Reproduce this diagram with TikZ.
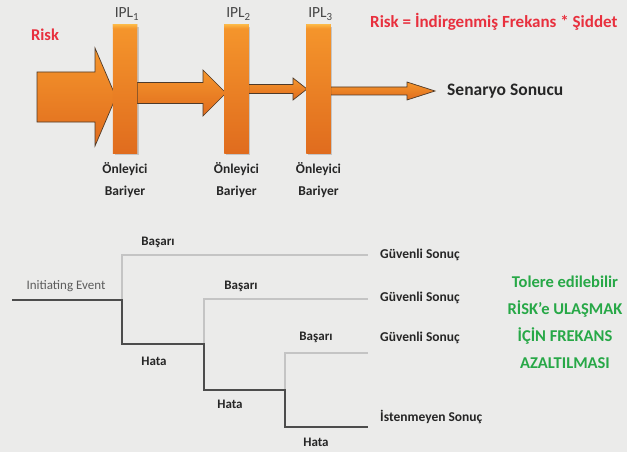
\documentclass[tikz,border=0pt]{standalone}
\usepackage{fontspec}
\setmainfont{Carlito}
\usetikzlibrary{calc,shadows}

\definecolor{bgc}{HTML}{EBEBEA}
\definecolor{riskred}{HTML}{E8303E}
\definecolor{okgreen}{HTML}{27A847}
\definecolor{orangetop}{HTML}{F5962C}
\definecolor{orangebot}{HTML}{E06C1E}
\definecolor{orangehi}{HTML}{FBB443}
\definecolor{orangeline}{HTML}{4E3A2A}
\definecolor{okline}{HTML}{C4C4C4}
\definecolor{failline}{HTML}{4C4C4C}
\definecolor{txt}{HTML}{262626}

\tikzset{
  blockarrow/.style={draw=orangeline, line width=0.7pt, line join=miter,
    top color=orangetop, bottom color=orangebot},
  barrier/.style={rectangle, minimum width=24pt, minimum height=128pt,
    inner sep=0pt, top color=orangetop, bottom color=orangebot,
    drop shadow={shadow xshift=1.6pt, shadow yshift=-1.6pt, opacity=0.35}},
  ipl/.style={font=\fontsize{15.5}{15.5}\selectfont, text=txt!85},
  barlabel/.style={font=\fontsize{13.5}{22}\selectfont\bfseries, text=txt,
    align=center},
  branch/.style={font=\fontsize{13}{13}\selectfont\bfseries, text=txt},
  outcome/.style={font=\fontsize{13.5}{13.5}\selectfont\bfseries, text=txt,
    anchor=west, inner sep=0pt},
  okpath/.style={draw=okline, line width=2.6pt},
  failpath/.style={draw=failline, line width=2.6pt},
}

% block arrow from the x of #1 to the tip #2;
% #3 shaft half height, #4 head half height, #5 head length
\newcommand\blockarrow[5]{%
  \path[blockarrow] let \p1=(#1), \p2=(#2) in
    ({\x1},{\y2+#3}) -- ({\x2-#5},{\y2+#3}) -- ({\x2-#5},{\y2+#4})
    -- (\x2,\y2) -- ({\x2-#5},{\y2-#4}) -- ({\x2-#5},{\y2-#3})
    -- ({\x1},{\y2-#3}) -- cycle;}

\begin{document}
\begin{tikzpicture}[x=1pt, y=-1pt]
  \clip (0,0) rectangle (627,452);
  \fill[bgc] (0,0) rectangle (627,452);

  % ---------- barrier chain ----------
  \coordinate (tail) at (37,97);
  \coordinate (tip1) at (116,97);
  \coordinate (tip2) at (226,93);
  \coordinate (tip3) at (307,89);
  \coordinate (tip4) at (435,91);

  \node[barrier] (b1) at (125,89) {};
  \node[barrier] (b2) at (236.5,89) {};
  \node[barrier] (b3) at (318.5,89) {};

  \blockarrow{tail}{tip1}{25pt}{49pt}{21pt}
  \blockarrow{b1.east}{tip2}{10.5pt}{23pt}{23pt}
  \blockarrow{b2.east}{tip3}{4.5pt}{11pt}{14pt}
  \blockarrow{b3.east}{tip4}{4pt}{9pt}{28pt}

  % redraw the bars over the arrow tips, with a bright top edge
  \foreach \b in {b1,b2,b3}{
    \fill[top color=orangetop, bottom color=orangebot]
      (\b.north west) rectangle (\b.south east);
    \fill[top color=orangehi, bottom color=orangetop]
      (\b.north west) rectangle ([yshift=-3.5pt]\b.north east);
  }

  \node[ipl] (l1) at (127,14) {IPL\textsubscript{1}};
  \node[ipl] (l2) at (238.5,14) {IPL\textsubscript{2}};
  \node[ipl] (l3) at (320.5,14) {IPL\textsubscript{3}};

  \node[barlabel] (o1) at (125,180) {Önleyici\\Bariyer};
  \node[barlabel] (o2) at (236.5,180) {Önleyici\\Bariyer};
  \node[barlabel] (o3) at (318.5,180) {Önleyici\\Bariyer};

  \node[font=\fontsize{16.5}{16.5}\selectfont\bfseries, text=riskred]
    (risk) at (45,35) {Risk};
  \node[font=\fontsize{17}{17}\selectfont\bfseries, text=riskred,
    anchor=west, inner sep=0pt] (formula) at (370,22)
    {Risk = İndirgenmiş Frekans * Şiddet};
  \node[font=\fontsize{17.5}{17.5}\selectfont\bfseries, text=txt,
    anchor=west, inner sep=0pt] (result) at (447,91) {Senaryo Sonucu};

  % ---------- event tree ----------
  \coordinate (ie) at (12,300);
  \coordinate (j1) at (122,300);
  \coordinate (s1) at (122,255);
  \coordinate (f1) at (122,344);
  \coordinate (j2) at (204,344);
  \coordinate (s2) at (204,299);
  \coordinate (f2) at (204,390);
  \coordinate (j3) at (285,390);
  \coordinate (s3) at (285,353);
  \coordinate (f3) at (285,427);
  \coordinate (e1) at (368,255);
  \coordinate (e2) at (368,299);
  \coordinate (e3) at (368,353);
  \coordinate (e4) at (368,427);

  \draw[okpath] (j1) -- (s1) -- (e1);
  \draw[okpath] (j2) -- (s2) -- (e2);
  \draw[okpath] (j3) -- (s3) -- (e3);
  \draw[failpath, line join=miter] (ie) -- (j1) -- (f1) -- (j2) -- (f2) -- (j3) -- (f3) -- (e4);

  \node[font=\fontsize{13}{13}\selectfont, text=txt!75] (ielabel) at (66,286)
    {Initiating Event};

  \node[branch] (bs1) at (158,242) {Başarı};
  \node[branch] (bs2) at (241,286) {Başarı};
  \node[branch] (bs3) at (316,337) {Başarı};
  \node[branch] (bf1) at (154,361) {Hata};
  \node[branch] (bf2) at (230,404) {Hata};
  \node[branch] (bf3) at (316,442) {Hata};

  \node[outcome] (out1) at (380,255) {Güvenli Sonuç};
  \node[outcome] (out2) at (380,298) {Güvenli Sonuç};
  \node[outcome] (out3) at (380,338) {Güvenli Sonuç};
  \node[outcome] (out4) at (380,417) {İstenmeyen Sonuç};

  \node[font=\fontsize{16.5}{27}\selectfont\bfseries, text=okgreen,
    align=center, inner sep=0pt] (goal) at (565,322)
    {Tolere edilebilir\\RİSK’e ULAŞMAK\\İÇİN FREKANS\\AZALTILMASI};
\end{tikzpicture}
\end{document}
